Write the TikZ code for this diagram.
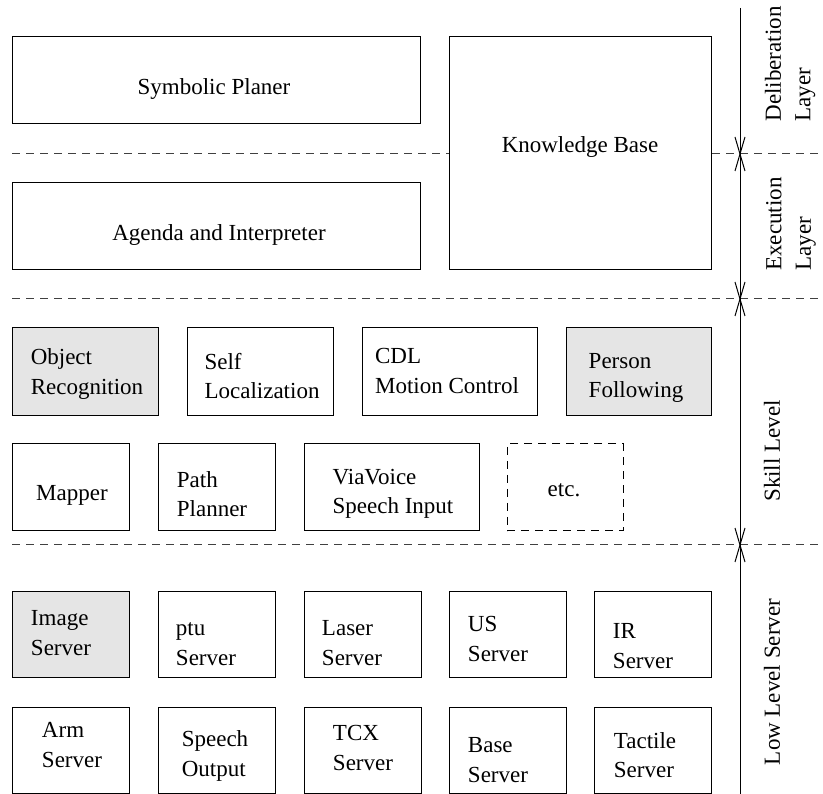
\documentclass[tikz,border=0pt]{standalone}
\usepackage{fontspec}
\setmainfont{Liberation Serif}
\begin{document}
\begin{tikzpicture}[x=1pt,y=-1pt,
  box/.style={draw=black, line width=1pt, fill=white, inner sep=0pt, outer sep=0pt, anchor=north west},
  shaded/.style={box, fill=gray!20},
  openbox/.style={box, dash pattern=on 8pt off 6pt},
  lbl/.style={align=left, font=\fontsize{23}{29.5}\selectfont, inner sep=0pt},
  sepline/.style={draw=black!75, line width=1pt, dash pattern=on 8pt off 6pt},
  dimline/.style={draw=black, line width=1pt}]
\useasboundingbox (0,0) rectangle (823,794);

% layer separators
\coordinate (s1l) at (12,154);  \coordinate (s1r) at (823,154);
\coordinate (s2l) at (12,299);  \coordinate (s2r) at (823,299);
\coordinate (s3l) at (12,545);  \coordinate (s3r) at (823,545);
\draw[sepline] (s1l) -- (s1r);
\draw[sepline] (s2l) -- (s2r);
\draw[sepline] (s3l) -- (s3r);

% dimension line with ticks at the layer borders
\coordinate (d0) at (740,8);
\coordinate (d1) at (740,154);
\coordinate (d2) at (740,299);
\coordinate (d3) at (740,545);
\coordinate (d4) at (740,794);
\draw[dimline] (d0) -- (d4);
\foreach \p in {d1,d2,d3} {
  \draw[dimline] ([shift={(-5,-17)}]\p) -- (\p) -- ([shift={(5,-17)}]\p);
  \draw[dimline] ([shift={(-5,17)}]\p) -- (\p) -- ([shift={(5,17)}]\p);
}

% deliberation / execution
\node[box, minimum width=408pt, minimum height=87pt] (symb) at (12,37) {};
\node[lbl] (symb-t) at (214,89) {Symbolic Planer};
\node[box, minimum width=262pt, minimum height=233pt] (know) at (449,37) {};
\node[lbl] (know-t) at (580,147) {Knowledge Base};
\node[box, minimum width=408pt, minimum height=87pt] (agenda) at (12,183) {};
\node[lbl] (agenda-t) at (219,235) {Agenda and Interpreter};

% skill level
\node[shaded, minimum width=146pt, minimum height=88pt] (objrec) at (12,328) {};
\node[lbl] (objrec-t) at (87,374) {Object\\Recognition};
\node[box, minimum width=146pt, minimum height=88pt] (selfloc) at (187,328) {};
\node[lbl] (selfloc-t) at (262,376) {Self\\Localization};
\node[box, minimum width=175pt, minimum height=88pt] (cdl) at (362,328) {};
\node[lbl] (cdl-t) at (447,371) {CDL\\Motion Control};
\node[shaded, minimum width=145pt, minimum height=88pt] (person) at (566,328) {};
\node[lbl] (person-t) at (636,378) {Person\\Following};

\node[box, minimum width=117pt, minimum height=87pt] (mapper) at (12,444) {};
\node[lbl] (mapper-t) at (72,495) {Mapper};
\node[box, minimum width=117pt, minimum height=87pt] (path) at (158,444) {};
\node[lbl] (path-t) at (212,494) {Path\\Planner};
\node[box, minimum width=175pt, minimum height=87pt] (via) at (304,444) {};
\node[lbl] (via-t) at (393,494) {ViaVoice\\Speech Input};
\node[openbox, minimum width=116pt, minimum height=87pt] (etc) at (507,444) {};
\node[lbl] (etc-t) at (564,490) {etc.};

% low level server
\node[shaded, minimum width=117pt, minimum height=86pt] (image) at (12,591) {};
\node[lbl] (image-t) at (61,633) {Image\\Server};
\node[box, minimum width=117pt, minimum height=86pt] (ptu) at (158,591) {};
\node[lbl] (ptu-t) at (206,644) {ptu\\Server};
\node[box, minimum width=117pt, minimum height=86pt] (laser) at (304,591) {};
\node[lbl] (laser-t) at (352,643) {Laser\\Server};
\node[box, minimum width=117pt, minimum height=86pt] (us) at (449,591) {};
\node[lbl] (us-t) at (498,639) {US\\Server};
\node[box, minimum width=117pt, minimum height=86pt] (ir) at (594,591) {};
\node[lbl] (ir-t) at (643,646) {IR\\Server};

\node[box, minimum width=117pt, minimum height=86pt] (arm) at (12,707) {};
\node[lbl] (arm-t) at (72,745) {Arm\\Server};
\node[box, minimum width=117pt, minimum height=86pt] (speech) at (158,707) {};
\node[lbl] (speech-t) at (215,756) {Speech\\Output};
\node[box, minimum width=117pt, minimum height=86pt] (tcx) at (304,707) {};
\node[lbl] (tcx-t) at (363,748) {TCX\\Server};
\node[box, minimum width=117pt, minimum height=86pt] (base) at (449,707) {};
\node[lbl] (base-t) at (498,760) {Base\\Server};
\node[box, minimum width=117pt, minimum height=86pt] (tactile) at (594,707) {};
\node[lbl] (tactile-t) at (645,755) {Tactile\\Server};

% layer names
\node[lbl, rotate=90] (lay1) at (790,64) {Deliberation\\Layer};
\node[lbl, rotate=90] (lay2) at (791,224) {Execution\\Layer};
\node[lbl, rotate=90] (lay3) at (772,451) {Skill Level};
\node[lbl, rotate=90] (lay4) at (772,682) {Low Level Server};
\end{tikzpicture}
\end{document}
